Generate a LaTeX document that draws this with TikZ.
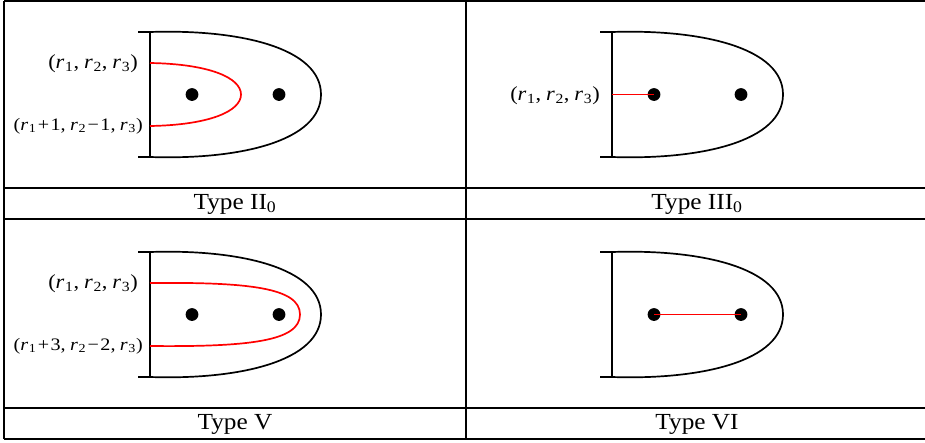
\documentclass[tikz,border=0pt]{standalone}
\usepackage{fontspec}
\setmainfont{Liberation Serif}
\usepackage{graphicx}
\newcommand{\rv}[1]{\textit{r}\kern0.03em\textsubscript{#1}}
\newcommand{\cm}{,\kern0.22em}
\newcommand{\op}[1]{\kern0.07em#1\kern0.07em}
\newcommand{\sx}[1]{\scalebox{1.12}[1]{#1}}
\newcommand{\sxs}[1]{\scalebox{1.15}[1]{#1}}
\newcommand{\sxc}[1]{\scalebox{1.1}[1]{#1}}
\begin{document}
\begin{tikzpicture}[x=1pt,y=-1pt,
  grid/.style={line width=1.8pt},
  shp/.style={line width=1.7pt},
  redl/.style={red, line width=1.7pt},
  dot/.style={circle, fill=black, inner sep=0pt, minimum size=12.8pt},
  lbl/.style={anchor=east, inner sep=0pt, font=\fontsize{20}{24}\selectfont},
  lblsm/.style={anchor=east, inner sep=0pt, font=\fontsize{17.5}{20}\selectfont},
  captxt/.style={inner sep=0pt, font=\fontsize{23}{27}\selectfont}]
\useasboundingbox (0,0) rectangle (925,442);
\clip (0,0) rectangle (925,442);
% table rules
\foreach \yy in {1,188,219,408,439} \draw[grid] (4,\yy) -- (935,\yy);
\draw[grid] (4,1) -- (4,439);
\draw[grid] (466,1) -- (466,439);
% captions
\node[captxt] (c1) at (235,204) {\sxc{Type II\textsubscript{0}}};
\node[captxt] (c2) at (697,204) {\sxc{Type III\textsubscript{0}}};
\node[captxt] (c3) at (235,424) {\sxc{Type V}};
\node[captxt] (c4) at (697,424) {\sxc{Type VI}};
% ---- cell 1: Type II0
\begin{scope}
\draw[shp] (138,32) -- (150,32) (138,157) -- (150,157) (150,32) -- (150,157);
\draw[shp] (150,32) .. controls (240,29) and (321,48) .. (321,94.5) .. controls (321,141) and (240,160) .. (150,157);
\node[dot] (a1) at (192,94.5) {};
\node[dot] (a2) at (279,94.5) {};
\coordinate (ap) at (150,63);
\coordinate (aq) at (150,126);
\draw[redl] (ap) .. controls (210,64) and (241,78) .. (241,94.5) .. controls (241,111) and (210,125) .. (aq);
\node[lbl] (al1) at (138,64) {\sx{(\rv{1}\cm\rv{2}\cm\rv{3})}};
\node[lblsm] (al2) at (143,126) {\sxs{(\rv{1}\op{+}1\cm\rv{2}\op{−}1\cm\rv{3})}};
\end{scope}
% ---- cell 2: Type III0
\begin{scope}[shift={(462,0)}]
\draw[shp] (138,32) -- (150,32) (138,157) -- (150,157) (150,32) -- (150,157);
\draw[shp] (150,32) .. controls (240,29) and (321,48) .. (321,94.5) .. controls (321,141) and (240,160) .. (150,157);
\node[dot] (b1) at (192,94.5) {};
\node[dot] (b2) at (279,94.5) {};
\coordinate (bp) at (150,94.5);
\draw[redl] (bp) -- (b1.center);
\node[lbl] (bl1) at (138,95.5) {\sx{(\rv{1}\cm\rv{2}\cm\rv{3})}};
\end{scope}
% ---- cell 3: Type V
\begin{scope}[shift={(0,220)}]
\draw[shp] (138,32) -- (150,32) (138,157) -- (150,157) (150,32) -- (150,157);
\draw[shp] (150,32) .. controls (240,29) and (321,48) .. (321,94.5) .. controls (321,141) and (240,160) .. (150,157);
\node[dot] (c1d) at (192,94.5) {};
\node[dot] (c2d) at (279,94.5) {};
\coordinate (cp) at (150,63);
\coordinate (cq) at (150,126);
\draw[redl] (cp) .. controls (250,62) and (300,68) .. (300,94.5) .. controls (300,121) and (250,127) .. (cq);
\node[lbl] (cl1) at (138,64) {\sx{(\rv{1}\cm\rv{2}\cm\rv{3})}};
\node[lblsm] (cl2) at (143,126) {\sxs{(\rv{1}\op{+}3\cm\rv{2}\op{−}2\cm\rv{3})}};
\end{scope}
% ---- cell 4: Type VI
\begin{scope}[shift={(462,220)}]
\draw[shp] (138,32) -- (150,32) (138,157) -- (150,157) (150,32) -- (150,157);
\draw[shp] (150,32) .. controls (240,29) and (321,48) .. (321,94.5) .. controls (321,141) and (240,160) .. (150,157);
\node[dot] (d1) at (192,94.5) {};
\node[dot] (d2) at (279,94.5) {};
\draw[redl] (d1.center) -- (d2.center);
\end{scope}
\end{tikzpicture}
\end{document}
